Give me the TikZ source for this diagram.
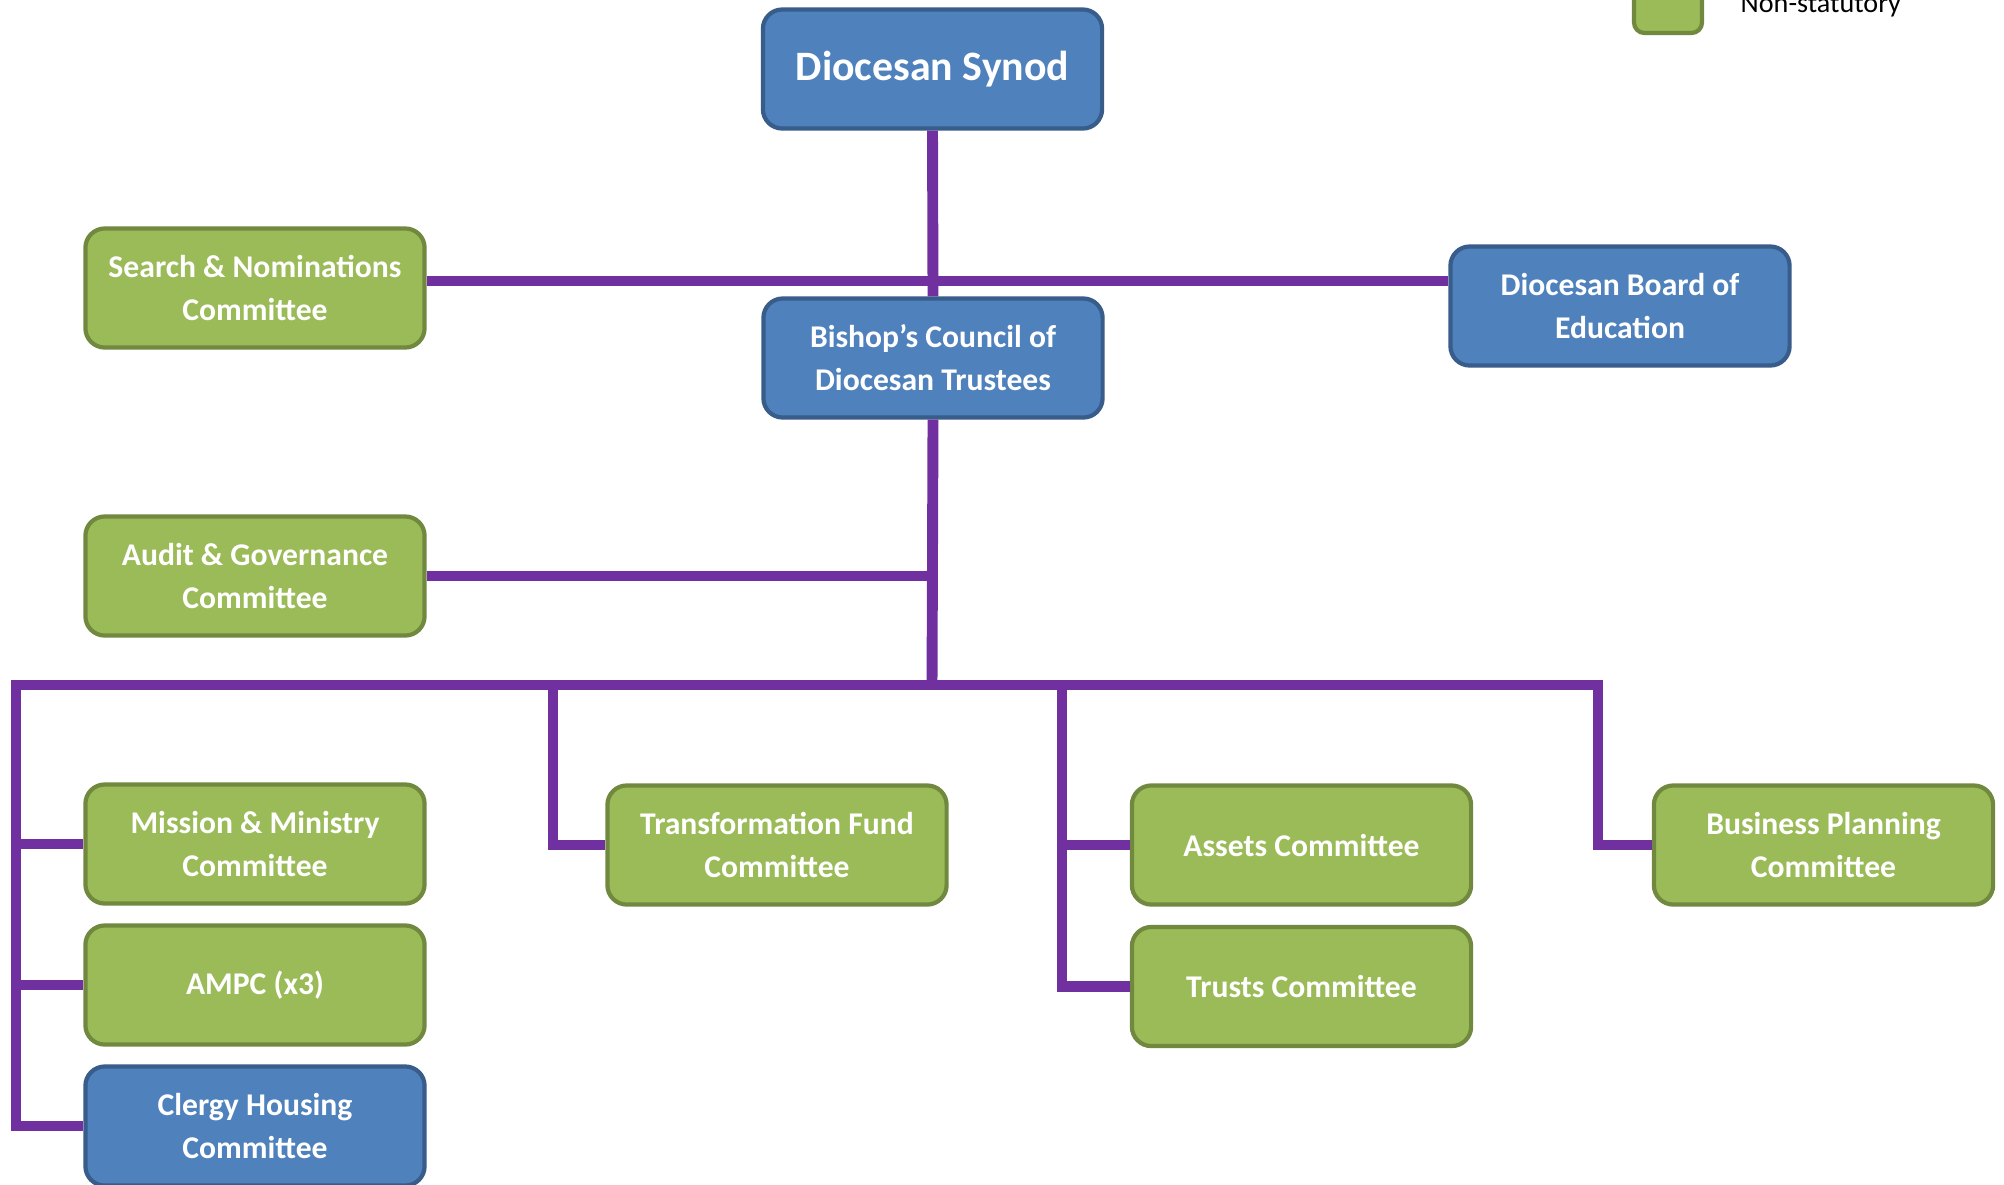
\documentclass[tikz,border=0pt]{standalone}
\usepackage{fontspec}
\setmainfont{Carlito}
\definecolor{bfill}{HTML}{4F81BD}
\definecolor{bdraw}{HTML}{385D8A}
\definecolor{gfill}{HTML}{9BBB59}
\definecolor{gdraw}{HTML}{71893F}
\definecolor{purp}{HTML}{7030A0}
\begin{document}
\begin{tikzpicture}[x=0.01cm,y=-0.01cm,
  box/.style={rectangle, rounded corners=5.5pt, line width=1.2pt,
    minimum width=3.39cm, minimum height=1.19cm, text=white,
    font=\bfseries\fontsize{9}{12.2}\selectfont, align=center, inner sep=0pt},
  bluebox/.style={box, fill=bfill, draw=bdraw},
  greenbox/.style={box, fill=gfill, draw=gdraw},
  conn/.style={draw=purp, line width=3.1pt, line join=miter}]
\useasboundingbox (0,0) rectangle (2004,1184);
\clip (0,0) rectangle (2004,1184);
\fill[white] (0,0) rectangle (2004,1184);

% legend
\node[greenbox, minimum width=0.68cm, minimum height=0.68cm, rounded corners=3pt] (leg) at (1668,-1) {};
\node[anchor=base west, font=\fontsize{8}{10}\selectfont, inner sep=0pt] (legtxt) at (1740,12) {Non-statutory};

% nodes
\node[bluebox, font=\bfseries\fontsize{11.9}{14}\selectfont] (synod) at (932.5,69) {Diocesan Synod};
\node[bluebox] (bishop) at (933,358) {Bishop’s Council of\\Diocesan Trustees};
\node[greenbox] (sn) at (255,288) {Search \& Nominations\\Committee};
\node[bluebox] (dbe) at (1620,306) {Diocesan Board of\\Education};
\node[greenbox] (audit) at (255,576) {Audit \& Governance\\Committee};
\node[greenbox] (mm) at (255,844) {Mission \& Ministry\\Committee};
\node[greenbox] (ampc) at (255,985) {AMPC (x3)};
\node[bluebox] (clergy) at (255,1126) {Clergy Housing\\Committee};
\node[greenbox] (tf) at (777,845) {Transformation Fund\\Committee};
\node[greenbox] (assets) at (1301.5,845) {Assets Committee};
\node[greenbox] (trusts) at (1301.5,986.5) {Trusts Committee};
\node[greenbox] (bp) at (1823.5,845) {Business Planning\\Committee};

% junction coordinates
\coordinate (h1) at (932,281);
\coordinate (bus) at (932,685);
\coordinate (busL) at (16,685);
\coordinate (busTF) at (553,685);
\coordinate (busAT) at (1062,685);
\coordinate (busR) at (1598,685);

% connectors
\draw[conn] (synod.south) -- (bishop.north);
\draw[conn] (sn.east |- h1) -- (dbe.west |- h1);
\draw[conn] (bishop.south) -- (bus);
\draw[conn] (audit.east) -- (audit.east -| bus);
\draw[conn] (clergy.west) -| (busL) -- (busR) |- (bp.west);
\draw[conn] (busL |- mm.west) -- (mm.west);
\draw[conn] (busL |- ampc.west) -- (ampc.west);
\draw[conn] (busTF) |- (tf.west);
\draw[conn] (busAT) |- (trusts.west);
\draw[conn] (busAT |- assets.west) -- (assets.west);
\end{tikzpicture}
\end{document}
